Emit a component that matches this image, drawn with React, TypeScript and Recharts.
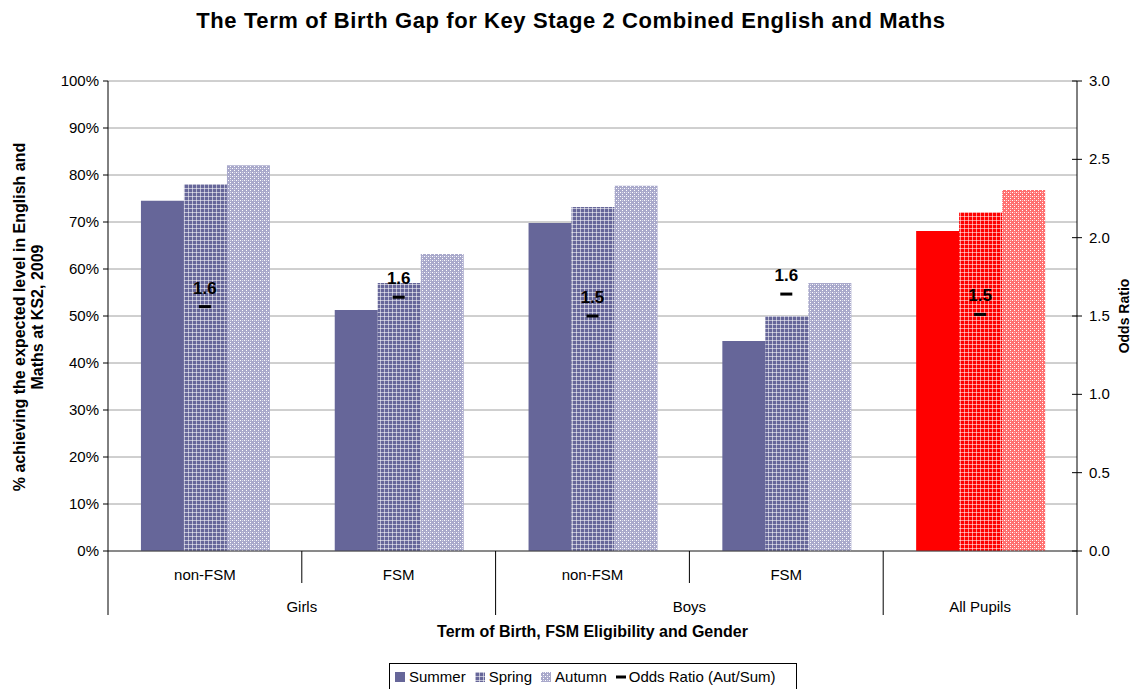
import { Bar, CartesianGrid, Cell, ComposedChart, LabelList, Line, XAxis, YAxis } from 'recharts';

const subLabels = ['non-FSM', 'FSM', 'non-FSM', 'FSM', ''];
const groupLabels = ['Girls', 'Girls', 'Boys', 'Boys', 'All Pupils'];
const summer = [74.5, 51.3, 69.8, 44.7, 68.1];
const spring = [78.1, 57.0, 73.2, 50.0, 72.1];
const autumn = [82.1, 63.2, 77.7, 57.0, 76.8];
const oddsRatio = [1.56, 1.62, 1.5, 1.64, 1.51];
const pctTicks = [0, 10, 20, 30, 40, 50, 60, 70, 80, 90, 100];
const oddsTicks = [0, 0.5, 1, 1.5, 2, 2.5, 3];

const W = 1142;
const H = 690;
const LEFT_W = 108;
const RIGHT_W = 65;
const TOP = 81;
const XAXIS_H = 90;
const BOTTOM = 49;
const BAND = (W - LEFT_W - RIGHT_W) / subLabels.length;
const FONT = '"Liberation Sans", Arial, sans-serif';

const data = subLabels.map((sub, i) => ({
  key: `${groupLabels[i]} ${sub}`,
  summer: summer[i],
  spring: spring[i],
  autumn: autumn[i],
  odds: oddsRatio[i],
}));

const fills = (i: number, kind: 'summer' | 'spring' | 'autumn') => {
  const red = groupLabels[i] === 'All Pupils';
  if (kind === 'summer') return red ? '#ff0000' : '#666699';
  if (kind === 'spring') return red ? 'url(#springRed)' : 'url(#springBlue)';
  return red ? 'url(#autumnRed)' : 'url(#autumnBlue)';
};

const CategoryTick = (props: any) => {
  const { x, y, index } = props;
  const left = x - BAND / 2;
  const right = x + BAND / 2;
  const firstOfGroup = index === 0 || groupLabels[index] !== groupLabels[index - 1];
  const lastOfGroup = index === groupLabels.length - 1 || groupLabels[index] !== groupLabels[index + 1];
  const groupX = firstOfGroup && lastOfGroup ? x : right;
  return (
    <g>
      {subLabels[index] && (
        <text x={x} y={y + 29} textAnchor='middle' fontSize={15} fill='#000'>
          {subLabels[index]}
        </text>
      )}
      {firstOfGroup && <line x1={left} x2={left} y1={y} y2={y + 64} stroke='#000' />}
      {index === subLabels.length - 1 && <line x1={right} x2={right} y1={y} y2={y + 64} stroke='#000' />}
      {!lastOfGroup && <line x1={right} x2={right} y1={y} y2={y + 32} stroke='#000' />}
      {firstOfGroup && (
        <text x={groupX} y={y + 61} textAnchor='middle' fontSize={15} fill='#000'>
          {groupLabels[index]}
        </text>
      )}
    </g>
  );
};

const OddsTick = (props: any) => {
  const { x, y, payload } = props;
  return (
    <g>
      <line x1={x - 5} x2={x + 5} y1={y} y2={y} stroke='#000' />
      <text x={x + 12} y={y} dy={5} fontSize={15} fill='#000'>
        {payload.value.toFixed(1)}
      </text>
    </g>
  );
};

const OddsDot = (props: any) => {
  const { cx, cy } = props;
  if (cx == null || cy == null) return null;
  return <rect x={cx - 6} y={cy - 1.5} width={12} height={3} fill='#000' />;
};

const LegendSwatch = ({ fill }: { fill: string }) => (
  <svg width={10} height={10} style={{ marginRight: 4 }}>
    <rect width={10} height={10} fill={fill} />
  </svg>
);

const App = () => {
  return (
    <div style={{ position: 'absolute', left: 0, top: 0, width: W, height: H, background: '#fff', fontFamily: FONT }}>
      <div
        style={{
          position: 'absolute',
          top: 8,
          width: W,
          textAlign: 'center',
          fontWeight: 'bold',
          fontSize: 22,
          letterSpacing: 0.6,
        }}
      >
        The Term of Birth Gap for Key Stage 2 Combined English and Maths
      </div>
      <ComposedChart
        width={W}
        height={H}
        data={data}
        margin={{ top: TOP, right: 0, bottom: BOTTOM, left: 0 }}
        barCategoryGap='17%'
        barGap={0}
        style={{ fontFamily: FONT }}
      >
        <defs>
          <pattern id='springBlue' width='4' height='4' patternUnits='userSpaceOnUse'>
            <rect width='4' height='4' fill='#666699' />
            <rect width='4' height='1' fill='#ffffff' fillOpacity={0.55} />
            <rect width='1' height='4' fill='#ffffff' fillOpacity={0.55} />
          </pattern>
          <pattern id='autumnBlue' width='4' height='4' patternUnits='userSpaceOnUse'>
            <rect width='4' height='4' fill='#a9a9cb' />
            <rect x='0' y='0' width='1' height='1' fill='#ffffff' />
            <rect x='2' y='2' width='1' height='1' fill='#ffffff' />
            <rect x='2' y='0' width='1' height='1' fill='#d8d8ea' />
          </pattern>
          <pattern id='springRed' width='4' height='4' patternUnits='userSpaceOnUse'>
            <rect width='4' height='4' fill='#ff0000' />
            <rect width='4' height='1' fill='#ffffff' fillOpacity={0.55} />
            <rect width='1' height='4' fill='#ffffff' fillOpacity={0.55} />
          </pattern>
          <pattern id='autumnRed' width='4' height='4' patternUnits='userSpaceOnUse'>
            <rect width='4' height='4' fill='#ff7070' />
            <rect x='0' y='0' width='1' height='1' fill='#ffffff' />
            <rect x='2' y='2' width='1' height='1' fill='#ffffff' />
            <rect x='2' y='0' width='1' height='1' fill='#ffc0c0' />
          </pattern>
        </defs>
        <CartesianGrid yAxisId='left' stroke='#a0a0a0' vertical={false} />
        <XAxis
          dataKey='key'
          height={XAXIS_H}
          interval={0}
          tickLine={false}
          tickSize={0}
          tickMargin={0}
          axisLine={{ stroke: '#444' }}
          tick={<CategoryTick />}
          label={{
            value: 'Term of Birth, FSM Eligibility and Gender',
            position: 'insideBottom',
            offset: 4,
            fill: '#000',
            fontSize: 16,
            fontWeight: 'bold',
          }}
        />
        <YAxis
          yAxisId='left'
          width={LEFT_W}
          domain={[0, 100]}
          ticks={pctTicks}
          interval={0}
          tickFormatter={(v: number) => `${v}%`}
          tick={{ fill: '#000', fontSize: 15 }}
          tickSize={5}
          tickMargin={4}
          tickLine={{ stroke: '#000' }}
          axisLine={{ stroke: '#000' }}
          label={{
            content: () => (
              <g fontWeight='bold' fontSize={16} fill='#000'>
                <text x={19} y={317} transform='rotate(-90, 19, 317)' textAnchor='middle' dominantBaseline='central'>
                  % achieving the expected level in English and
                </text>
                <text x={37} y={317} transform='rotate(-90, 37, 317)' textAnchor='middle' dominantBaseline='central'>
                  Maths at KS2, 2009
                </text>
              </g>
            ),
          }}
        />
        <YAxis
          yAxisId='right'
          orientation='right'
          width={RIGHT_W}
          domain={[0, 3]}
          ticks={oddsTicks}
          interval={0}
          tickLine={false}
          tickSize={0}
          tickMargin={0}
          axisLine={{ stroke: '#000' }}
          tick={<OddsTick />}
          label={{
            content: () => (
              <text
                x={1124}
                y={316}
                transform='rotate(-90, 1124, 316)'
                textAnchor='middle'
                dominantBaseline='central'
                fontWeight='bold'
                fontSize={14}
                fill='#000'
              >
                Odds Ratio
              </text>
            ),
          }}
        />
        <Bar yAxisId='left' dataKey='summer' isAnimationActive={false}>
          {data.map((_, i) => (
            <Cell key={i} fill={fills(i, 'summer')} />
          ))}
        </Bar>
        <Bar yAxisId='left' dataKey='spring' isAnimationActive={false}>
          {data.map((_, i) => (
            <Cell key={i} fill={fills(i, 'spring')} />
          ))}
        </Bar>
        <Bar yAxisId='left' dataKey='autumn' isAnimationActive={false}>
          {data.map((_, i) => (
            <Cell key={i} fill={fills(i, 'autumn')} />
          ))}
        </Bar>
        <Line
          yAxisId='right'
          dataKey='odds'
          stroke='none'
          dot={<OddsDot />}
          activeDot={false}
          isAnimationActive={false}
        >
          <LabelList
            dataKey='odds'
            position='top'
            offset={13}
            formatter={(v: any) => Number(v).toFixed(1)}
            fill='#000'
            fontSize={17}
            fontWeight='bold'
          />
        </Line>
      </ComposedChart>
      <div
        style={{
          position: 'absolute',
          left: 389,
          top: 663,
          width: 408,
          height: 26,
          border: '1px solid #000',
          borderBottom: 'none',
          display: 'flex',
          alignItems: 'center',
          fontSize: 15,
          paddingLeft: 5,
          boxSizing: 'border-box',
          whiteSpace: 'nowrap',
        }}
      >
        <LegendSwatch fill='#666699' />
        <span style={{ marginRight: 9 }}>Summer</span>
        <LegendSwatch fill='url(#springBlue)' />
        <span style={{ marginRight: 9 }}>Spring</span>
        <LegendSwatch fill='url(#autumnBlue)' />
        <span style={{ marginRight: 9 }}>Autumn</span>
        <svg width={10} height={10} style={{ marginRight: 3 }}>
          <rect y={3.5} width={10} height={3} fill='#000' />
        </svg>
        <span>Odds Ratio (Aut/Sum)</span>
      </div>
    </div>
  );
};

export default App;
